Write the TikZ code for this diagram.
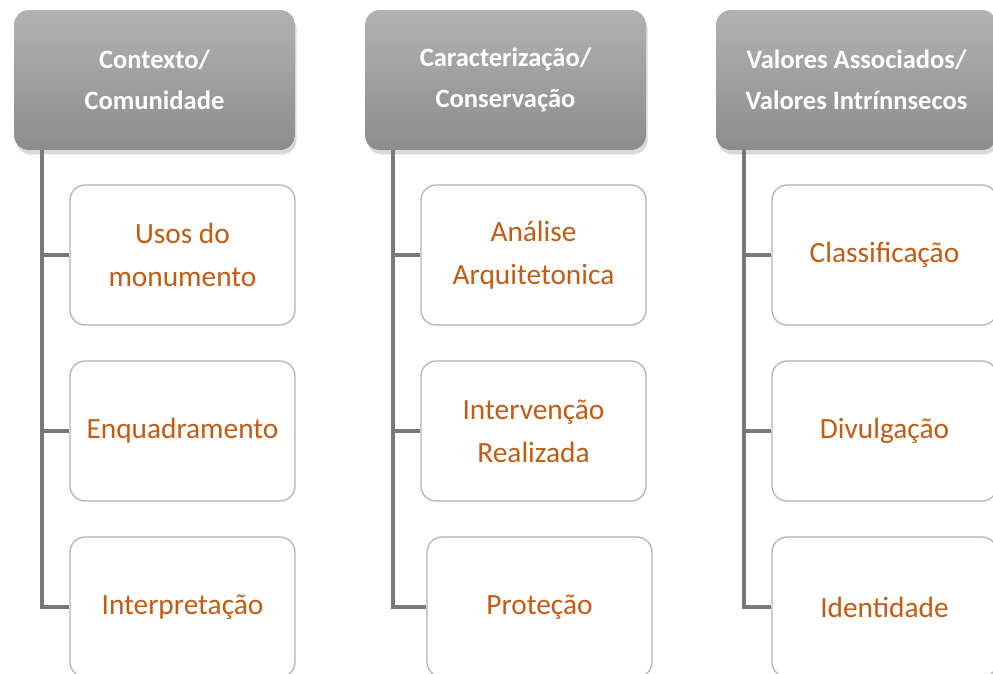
\documentclass[tikz,border=0pt]{standalone}
\usepackage{fontspec}
\setmainfont{Carlito}
\usetikzlibrary{shadows}
\definecolor{headtop}{RGB}{178,178,178}
\definecolor{headbot}{RGB}{140,140,140}
\definecolor{itemtext}{RGB}{197,90,17}
\definecolor{spinegray}{RGB}{120,120,120}
\definecolor{boxgray}{RGB}{178,178,178}
\tikzset{
	head/.style={rounded corners=0.3cm, minimum width=5.62cm, minimum height=2.8cm,
		top color=headtop, bottom color=headbot, draw=none, text=white, align=center,
		font=\bfseries\fontsize{15.1}{23.2}\selectfont,
		drop shadow={opacity=0.3, shadow xshift=1pt, shadow yshift=-2.5pt}},
	item/.style={rounded corners=0.3cm, minimum width=4.5cm, minimum height=2.8cm,
		draw=boxgray, line width=0.7pt, fill=white, text=itemtext, align=center,
		font=\fontsize{16.7}{24.4}\selectfont},
	spine/.style={draw=spinegray, line width=1.8pt}
}
\begin{document}
\begin{tikzpicture}[x=0.02cm, y=-0.02cm]
	\useasboundingbox[fill=white] (0,0) rectangle (993,673);
	
	% column headers
	\node[head] (h1) at (154.5,80) {Contexto/\\Comunidade};
	\node[head] (h2) at (505.5,80) {Caracterização/\\Conservação};
	\node[head] (h3) at (856.5,80) {Valores Associados/\\Valores Intrínnsecos};
	
	\coordinate (t1) at (42,150);
	\coordinate (t2) at (393,150);
	\coordinate (t3) at (744,150);
	
	% items
	\node[item] (c11) at (182.5,255) {Usos do\\monumento};
	\node[item] (c12) at (182.5,431) {Enquadramento};
	\node[item] (c13) at (182.5,607) {Interpretação};
	
	\node[item] (c21) at (533.5,255) {Análise\\Arquitetonica};
	\node[item] (c22) at (533.5,431) {Intervenção\\Realizada};
	\node[item] (c23) at (539.5,607) {Proteção};
	
	\node[item] (c31) at (884.5,255) {Classificação};
	\node[item] (c32) at (884.5,431) {Divulgação};
	\node[item] (c33) at (884.5,607) {Identidade};
	
	% connectors
	\foreach \c in {1,2,3} {
		\draw[spine] (t\c) |- (c\c3.west);
		\draw[spine] (c\c1.west) -- (c\c1.west -| t\c);
		\draw[spine] (c\c2.west) -- (c\c2.west -| t\c);
	}
\end{tikzpicture}
\end{document}
